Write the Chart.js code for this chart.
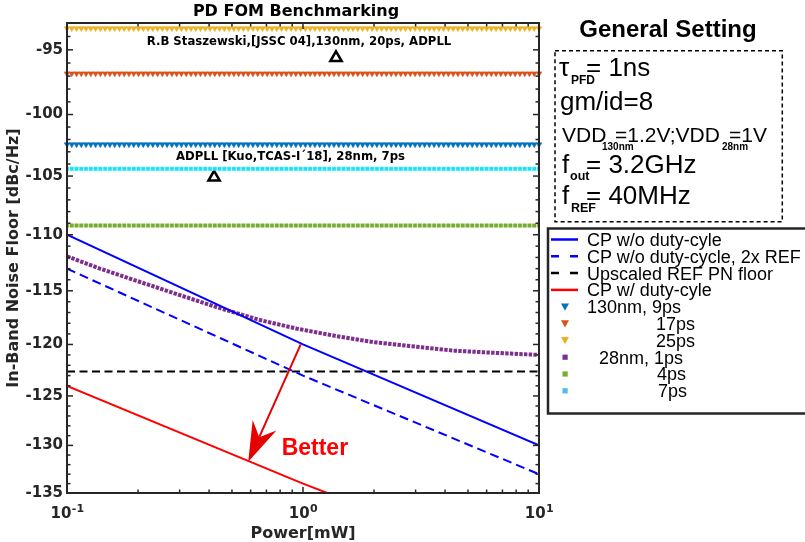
<!DOCTYPE html>
<html><head><meta charset="utf-8">
<script src="https://cdn.jsdelivr.net/npm/chart.js@4.4.0/dist/chart.umd.min.js"></script>
<style>
html,body{margin:0;padding:0;background:#fff;overflow:hidden;}
#wrap{position:relative;width:805px;height:542px;overflow:hidden;}
canvas{position:absolute;left:0;top:0;}
svg{position:absolute;left:0;top:0;}
</style></head><body>
<div id="wrap">
<canvas id="c" width="805" height="542"></canvas>
<svg id="ov" width="805" height="542" xmlns="http://www.w3.org/2000/svg">
  <text x="296" y="16" font-family="DejaVu Sans" font-weight="bold" font-size="16" text-anchor="middle" fill="#000">PD FOM Benchmarking</text>
  <text x="668" y="36.7" font-family="Liberation Sans" font-weight="bold" font-size="24" text-anchor="middle" fill="#000">General Setting</text>
  <rect x="555" y="50.7" width="227.3" height="171" fill="none" stroke="#000" stroke-width="1.5" stroke-dasharray="4 3"/>
  <g font-family="Liberation Sans" fill="#000">
    <text x="559" y="76" font-size="26">τ</text>
    <text x="571" y="84" font-size="12" font-weight="bold">PFD</text>
    <text x="586" y="76" font-size="26">= 1ns</text>
    <text x="560" y="110" font-size="26">gm/id=8</text>
    <text x="562" y="141.7" font-size="21">VDD</text>
    <text x="602" y="150" font-size="10" font-weight="bold">130nm</text>
    <text x="615" y="141.7" font-size="21">=1.2V;VDD</text>
    <text x="722" y="150" font-size="10" font-weight="bold">28nm</text>
    <text x="729" y="141.7" font-size="21">=1V</text>
    <text x="562" y="172.7" font-size="26">f</text>
    <text x="570" y="180" font-size="12.5" font-weight="bold">out</text>
    <text x="586" y="172.7" font-size="26">= 3.2GHz</text>
    <text x="562" y="204" font-size="26">f</text>
    <text x="571" y="211.7" font-size="12.5" font-weight="bold">REF</text>
    <text x="586" y="204" font-size="26">= 40MHz</text>
  </g>
  <g id="legend"></g>
</svg>
</div>
<script>
// ---------------- data ----------------
const powerMW          = [0.1, 1, 10];                 // power sweep end points [mW]
const cpNoDutyDb       = [-110, -120, -130];           // CP w/o duty-cyle
const cpNoDuty2xRefDb  = [-113, -123, -133];           // CP w/o duty-cycle, 2x REF
const refFloorDb       = [-122.6, -122.6, -122.6];     // Upscaled REF PN floor
const cpDutyDb         = [-124, -134, -144];           // CP w/ duty-cyle (runs off the bottom)

const fom28nm1psPower  = [0.1, 0.138, 0.204, 0.301, 0.445, 0.657, 0.94, 1.38, 2.02, 2.98, 4.4, 6.5, 10];
const fom28nm1psDb     = [-111.9, -113.0, -114.2, -115.4, -116.6, -117.7, -118.5, -119.2, -119.8, -120.2, -120.6, -120.8, -121.0];

// marker sweep grid of the FOM rows (100 log-spaced power points, as plotted)
const markerPower = Array.from({length: 100}, (_, i) => Math.pow(10, -1 + 2 * i / 99));
const fom130nm9psDb  = -102.4;
const fom130nm17psDb = -96.8;
const fom130nm25psDb = -93.4;
const fom28nm4psDb   = -109.2;
const fom28nm7psDb   = -104.4;

// published designs
const benchPower  = [1.38, 0.42];
const benchDb     = [-95.6, -105.1];
const benchLabels = ['R.B Staszewski,[JSSC 04],130nm, 20ps, ADPLL', 'ADPLL [Kuo,TCAS-I\u00B418], 28nm, 7ps'];
const benchLabelAnchor = [[0.962, -94.6], [0.885, -103.7]];   // label baseline centre (data units)

// annotation arrow
const arrowFrom = [0.978, -120.0];
const arrowTo   = [0.586, -131.7];
const betterAt  = [0.812, -131.0];

// ticks
const xTicks    = [0.1, 1, 10];
const xTickExp  = ['-1', '0', '1'];
const yTicks    = [-95, -100, -105, -110, -115, -120, -125, -130, -135];

// ---------------- helpers ----------------
const pts  = (xs, ys) => xs.map((x, i) => ({x, y: -ys[i]}));     // log axis of |dB|
const flat = v => markerPower.map(x => ({x, y: -v}));

const lineDs = (label, xs, ys, color, dash, extra) => Object.assign({
  label, data: pts(xs, ys), borderColor: color, backgroundColor: color,
  borderWidth: 2, borderDash: dash || [], pointRadius: 0, tension: 0, fill: false
}, extra || {});
const triDs = (label, v, color, extra) => Object.assign({
  label, data: flat(v), showLine: false, pointStyle: 'triangle', rotation: 180,
  pointRadius: 3.2, borderWidth: 0.6, borderColor: color, backgroundColor: color, clip: false,
  legendMarker: 'tri'
}, extra || {});
const sqDs = (label, v, color, extra) => Object.assign({
  label, data: flat(v), showLine: false, pointStyle: 'rect',
  pointRadius: 2.5, borderWidth: 0.8, borderColor: color + '88', backgroundColor: color,
  legendMarker: 'sq'
}, extra || {});

const datasets = [
  lineDs('CP w/o duty-cyle', powerMW, cpNoDutyDb, '#0000FF', null, {legendX: 587}),
  lineDs('CP w/o duty-cycle, 2x REF', powerMW, cpNoDuty2xRefDb, '#0000FF', [9, 5], {legendX: 587}),
  lineDs('Upscaled REF PN floor', powerMW, refFloorDb, '#000000', [8, 4.5], {legendX: 587}),
  lineDs('CP w/ duty-cyle', powerMW, cpDutyDb, '#FF0000', null, {legendX: 587}),
  triDs('130nm, 9ps', fom130nm9psDb, '#0072BD', {legendX: 587}),
  triDs('17ps', fom130nm17psDb, '#D95319', {legendX: 656}),
  triDs('25ps', fom130nm25psDb, '#EDB120', {legendX: 656}),
  lineDs('28nm, 1ps', fom28nm1psPower, fom28nm1psDb, '#7E2F8E', [3.4, 1.3], {borderWidth: 4, legendX: 599, legendMarker: 'sq'}),
  sqDs('4ps', fom28nm4psDb, '#77AC30', {legendX: 657}),
  sqDs('7ps', fom28nm7psDb, '#1BE3F3', {legendX: 658, legendColor: '#4DBEEE'}),
  { label: 'benchmarks', data: pts(benchPower, benchDb), showLine: false, pointStyle: 'triangle',
    pointRadius: 6.5, borderWidth: 2.5, borderColor: '#000', backgroundColor: 'rgba(255,255,255,0)',
    clip: false, noLegend: true }
];

// ---------------- MATLAB-like axes box, inward ticks and annotations ----------------
const matlabAxes = {
  id: 'matlabAxes',
  afterDatasetsDraw(chart) {
    const {ctx, chartArea: a, scales: {x, y}} = chart;
    const P = (px, dv) => [x.getPixelForValue(px), y.getPixelForValue(-dv)];
    ctx.save();
    // annotation texts
    ctx.fillStyle = '#000';
    ctx.font = 'bold 11.7px "DejaVu Sans"';
    ctx.textAlign = 'center';
    ctx.textBaseline = 'alphabetic';
    benchLabels.forEach((t, i) => {
      const [tx, ty] = P(benchLabelAnchor[i][0], benchLabelAnchor[i][1]);
      ctx.fillText(t, tx, ty);
    });
    // arrow
    const [x0, y0] = P(arrowFrom[0], arrowFrom[1]);
    const [x1, y1] = P(arrowTo[0], arrowTo[1]);
    const dx = x1 - x0, dy = y1 - y0, L = Math.hypot(dx, dy);
    const ux = dx / L, uy = dy / L, nx = -uy, ny = ux;
    const hl = 40, hw = 13, notch = 27;
    ctx.strokeStyle = '#E60000'; ctx.fillStyle = '#E60000'; ctx.lineWidth = 2;
    ctx.beginPath(); ctx.moveTo(x0, y0); ctx.lineTo(x1 - ux * notch, y1 - uy * notch); ctx.stroke();
    ctx.beginPath();
    ctx.moveTo(x1, y1);
    ctx.lineTo(x1 - ux * hl + nx * hw, y1 - uy * hl + ny * hw);
    ctx.lineTo(x1 - ux * notch, y1 - uy * notch);
    ctx.lineTo(x1 - ux * hl - nx * hw, y1 - uy * hl - ny * hw);
    ctx.closePath(); ctx.fill();
    const [bx, by] = P(betterAt[0], betterAt[1]);
    ctx.fillStyle = '#FF0000'; ctx.font = 'bold 23px "Liberation Sans"'; ctx.textAlign = 'left';
    ctx.fillText('Better', bx, by);

    // ticks
    ctx.strokeStyle = '#262626'; ctx.lineWidth = 1.5;
    const seg = (ax, ay, bx2, by2) => { ctx.beginPath(); ctx.moveTo(ax, ay); ctx.lineTo(bx2, by2); ctx.stroke(); };
    for (let v = 94; v <= 134; v++) {
      const py = y.getPixelForValue(v);
      const len = v % 5 === 0 ? 6 : 3.5;
      seg(a.left, py, a.left + len, py);
      seg(a.right, py, a.right - len, py);
    }
    for (let d = -1; d <= 1; d++) {
      for (let m = 1; m <= 9; m++) {
        const v = m * Math.pow(10, d);
        if (v < 0.1 || v > 10) continue;
        const px = x.getPixelForValue(v);
        const len = m === 1 ? 6 : 3.5;
        seg(px, a.bottom, px, a.bottom - len);
        seg(px, a.top, px, a.top + len);
      }
    }
    ctx.lineWidth = 2;
    ctx.strokeRect(a.left, a.top, a.right - a.left, a.bottom - a.top);

    // x tick labels with superscript exponents (10^n)
    ctx.fillStyle = '#262626'; ctx.textAlign = 'left';
    const mainFont = 'bold 15px "DejaVu Sans"', supFont = 'bold 11px "DejaVu Sans"';
    xTicks.forEach((v, i) => {
      ctx.font = mainFont; const w1 = ctx.measureText('10').width;
      ctx.font = supFont;  const w2 = ctx.measureText(xTickExp[i]).width;
      const left = x.getPixelForValue(v) - (w1 + w2) / 2;
      ctx.font = mainFont; ctx.fillText('10', left, a.bottom + 25);
      ctx.font = supFont;  ctx.fillText(xTickExp[i], left + w1 + 0.5, a.bottom + 19.3);
    });
    ctx.restore();
  }
};

const chart = new Chart(document.getElementById('c'), {
  type: 'line',
  data: {datasets},
  options: {
    responsive: false, animation: false, devicePixelRatio: 1,
    layout: {padding: {top: 23, right: 266, left: 0, bottom: 0}},
    plugins: {legend: {display: false}, title: {display: false}, tooltip: {enabled: false}},
    scales: {
      x: {
        type: 'logarithmic', min: 0.1, max: 10, position: 'bottom',
        afterBuildTicks: s => { s.ticks = xTicks.map(v => ({value: v})); },
        afterFit: s => { s.height = 49; },
        grid: {display: false, drawTicks: false}, border: {display: false},
        ticks: {display: false},
        title: {display: true, text: 'Power[mW]', color: '#262626',
                font: {family: 'DejaVu Sans', weight: 'bold', size: 16, lineHeight: 1}, padding: {top: 0, bottom: 0}}
      },
      y: {
        type: 'logarithmic', reverse: true, min: 93, max: 135,
        afterBuildTicks: s => { s.ticks = yTicks.map(v => ({value: -v})); },
        afterFit: s => { s.width = 67; },
        grid: {display: false, drawTicks: false}, border: {display: false},
        ticks: {callback: (v, i) => String(yTicks[i]), autoSkip: false,
                font: {family: 'DejaVu Sans', weight: 'bold', size: 15}, color: '#262626', padding: 4},
        title: {display: true, text: 'In-Band Noise Floor [dBc/Hz]', color: '#262626',
                font: {family: 'DejaVu Sans', weight: 'bold', size: 16, lineHeight: 1}, padding: {top: 6, bottom: 0}}
      }
    }
  },
  plugins: [matlabAxes]
});

// ---------------- legend (built from the chart datasets) ----------------
(function buildLegend() {
  const NS = 'http://www.w3.org/2000/svg';
  const g = document.getElementById('legend');
  const mk = (tag, attrs, text) => {
    const e = document.createElementNS(NS, tag);
    for (const k in attrs) e.setAttribute(k, attrs[k]);
    if (text != null) e.textContent = text;
    g.appendChild(e); return e;
  };
  mk('rect', {x: 548, y: 228.5, width: 320, height: 185, fill: '#fff', stroke: '#262626', 'stroke-width': 2.5});
  const items = chart.data.datasets.filter(d => !d.noLegend);
  items.forEach((d, i) => {
    const yc = 239.5 + 16.8 * i;
    const col = d.legendColor || d.backgroundColor;
    if (d.legendMarker === 'tri') {
      mk('polygon', {points: `561,${yc - 3.2} 569,${yc - 3.2} 565,${yc + 4}`, fill: col});
    } else if (d.legendMarker === 'sq') {
      mk('rect', {x: 562.5, y: yc - 2.5, width: 5.2, height: 5.2, fill: col});
    } else {
      const a = {x1: 551, x2: 578, y1: yc, y2: yc, stroke: col, 'stroke-width': 2.5};
      if (d.borderDash && d.borderDash.length) a['stroke-dasharray'] = '8 11';
      mk('line', a);
    }
    mk('text', {x: d.legendX, y: yc + 6.4, 'font-family': 'Liberation Sans', 'font-size': 18, fill: '#000'}, d.label);
  });
})();
</script>
</body></html>
